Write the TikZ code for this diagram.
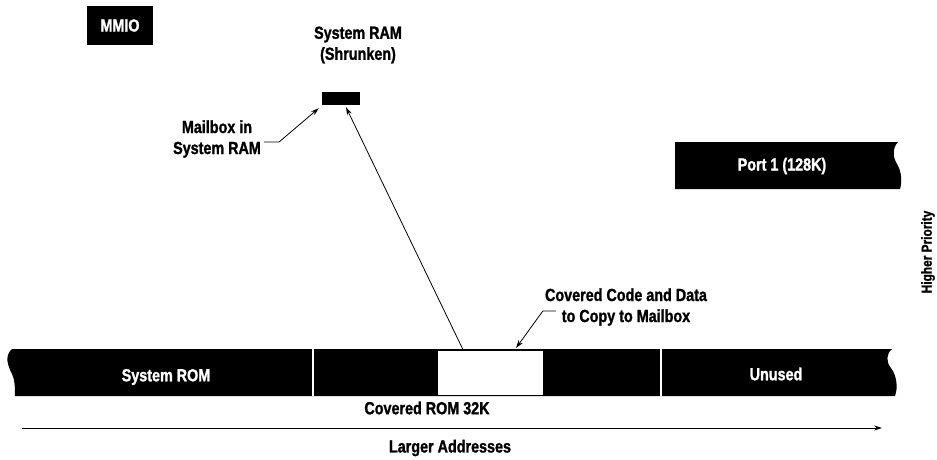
\documentclass[tikz,border=0pt]{standalone}
\usepackage{fontspec}
\setmainfont{Liberation Sans}[FakeStretch=0.82, BoldFeatures={FakeBold=1.3}]
\usetikzlibrary{arrows.meta,calc}
\begin{document}
\begin{tikzpicture}[x=1pt,y=-1pt,
  lbl/.style={font=\fontsize{17.5}{21}\selectfont\bfseries, align=center, inner sep=0pt},
  wlbl/.style={lbl,text=white},
  arr/.style={-{Stealth[length=8pt,width=5pt]}, line width=0.8pt},
  lead/.style={arr}]
\useasboundingbox (0,0) rectangle (937,460);
% main memory bar
\fill[black] (12,349) -- (892,349) .. controls (886,354) and (886,362) .. (891,368)
  .. controls (897,376) and (898,388) .. (895,396) -- (15,396)
  .. controls (15,388) and (15,380) .. (12,374) .. controls (8,366) and (4,356) .. (12,349) -- cycle;
\draw[white, line width=1.5pt] (313,349) -- (313,396);
\draw[white, line width=1.5pt] (661,349) -- (661,396);
\node[draw=black, fill=white, line width=0.8pt, minimum width=106, minimum height=45, inner sep=0pt, anchor=north west] (covered) at (437,350) {};
\node[wlbl] (sysrom) at (166,377) {System ROM};
\node[wlbl] (unused) at (776,374) {Unused};
\node[lbl] (covrom) at (427,408) {Covered ROM 32K};
% address arrow
\coordinate (a0) at (22,428);
\coordinate (a1) at (882,428);
\draw[arr] (a0) -- (a1);
\node[lbl] (larger) at (450,448) {Larger Addresses};
% MMIO
\node[fill=black, text=white, font=\fontsize{17.5}{21}\selectfont\bfseries, minimum width=66, minimum height=39, inner sep=0pt] (mmio) at (120,25.5) {MMIO};
% System RAM
\node[lbl] (ramlbl) at (358,45) {System RAM\\(Shrunken)};
\node[fill=black, minimum width=38, minimum height=13, inner sep=0pt] (ram) at (341,98.5) {};
\node[lbl] (mbl) at (217,139) {Mailbox in\\System RAM};
\draw[lead] ($(mbl.east)+(3,3)$) -- ++(15,0) -- ($(ram.south west)+(-3,3)$);
% Port 1
\fill[black] (675,142) -- (898,142) .. controls (892,148) and (893,158) .. (897,164)
  .. controls (902,172) and (902,183) .. (900,189) -- (675,189) -- cycle;
\node[wlbl] (port) at (782,166) {Port 1 (128K)};
\node[lbl, rotate=90, font=\fontsize{14.5}{17}\selectfont\bfseries] (hp) at (928,252) {Higher Priority};
% covered code label
\node[lbl] (ccl) at (626,307) {Covered Code and Data\\to Copy to Mailbox};
\draw[lead] ($(ccl.west)+(11,4)$) -- ++(-13,0) -- ($(covered.north west)!0.74!(covered.north east)+(0,-2)$);
% copy arrow
\draw[arr] ($(covered.north west)!0.245!(covered.north east)$) -- ($(ram.south)+(5,2)$);
\end{tikzpicture}
\end{document}
